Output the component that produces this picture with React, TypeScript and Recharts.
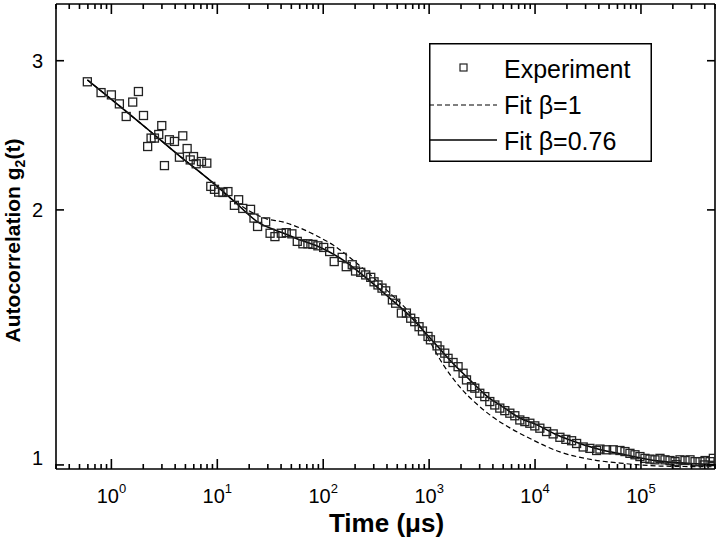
import React from "react";
import { ComposedChart, Scatter, Line, XAxis, YAxis, Legend } from "recharts";

// measured correlation g2(t), t in microseconds
const expTime = [
  0.593, 0.799, 1.0, 1.19, 1.38, 1.59, 1.8, 2.01, 2.2, 2.37, 2.55, 2.8, 2.99, 3.17, 3.53, 3.94, 4.39, 4.72,
  5.19, 5.55, 5.96, 6.32, 7.09, 7.96, 8.68, 9.41, 10.3, 11.3, 12.6, 14.5, 15.9, 17.4, 20.6, 22.2, 24.0, 28.6,
  31.5, 35.0, 40.2, 44.8, 50.6, 56.9, 64.3, 71.7, 79.9, 89.1, 101, 115, 127, 151, 165, 188, 202, 226, 252,
  281, 302, 329, 359, 389, 450, 483, 547, 610, 670, 731, 803, 865, 976, 1029, 1188, 1260, 1404, 1509, 1682,
  1876, 2092, 2253, 2511, 2698, 3008, 3354, 3740, 4169, 4648, 5183, 5779, 6444, 7183, 8010, 8930, 9950,
  11100, 12850, 14830, 17160, 19550, 22130, 24680, 28490, 32960, 38140, 40980, 47400, 54720, 63310, 70600,
  78700, 87770, 97800, 109100, 121600, 135600, 151200, 168600, 188000, 209700, 215000, 233700, 260600,
  290500, 323900, 361200, 395000, 402700, 449000, 470000, 482500,
];
const expG = [
  2.833, 2.751, 2.734, 2.668, 2.578, 2.681, 2.759, 2.585, 2.376, 2.431, 2.431, 2.455, 2.515, 2.256, 2.42, 2.409,
  2.308, 2.446, 2.363, 2.291, 2.312, 2.267, 2.281, 2.271, 2.132, 2.115, 2.099, 2.097, 2.102, 2.025, 2.056,
  2.008, 2.003, 1.956, 1.912, 1.936, 1.877, 1.86, 1.877, 1.88, 1.874, 1.836, 1.824, 1.824, 1.821, 1.814,
  1.806, 1.786, 1.738, 1.758, 1.714, 1.723, 1.694, 1.688, 1.676, 1.665, 1.645, 1.631, 1.617, 1.605, 1.566,
  1.552, 1.511, 1.511, 1.49, 1.476, 1.456, 1.439, 1.418, 1.405, 1.382, 1.367, 1.355, 1.336, 1.321, 1.306,
  1.283, 1.26, 1.237, 1.232, 1.215, 1.204, 1.188, 1.177, 1.167, 1.159, 1.151, 1.143, 1.13, 1.125, 1.12,
  1.112, 1.105, 1.095, 1.088, 1.078, 1.072, 1.068, 1.06, 1.05, 1.046, 1.04, 1.044, 1.042, 1.042, 1.04,
  1.037, 1.032, 1.028, 1.023, 1.018, 1.016, 1.014, 1.018, 1.014, 1.012, 1.009, 1.001, 1.014, 1.012, 1.014,
  1.009, 1.009, 1.0, 1.012, 1.009, 0.999, 1.018,
];

// stretched exponential fit, beta = 0.76
const fitStretchedTime = [
  0.593, 1.19, 2.29, 4.39, 8.44, 13.9, 24.0, 41.3, 59.8, 86.6, 153, 275, 424, 655, 870, 1260, 1565, 2420,
  3503, 4963, 7183, 10400, 15390, 21330, 39240, 70600, 141700, 290500, 500000,
];
const fitStretchedG = [
  2.848, 2.654, 2.48, 2.317, 2.17, 2.056, 1.936, 1.879, 1.844, 1.814, 1.746, 1.649, 1.574, 1.5, 1.443,
  1.371, 1.33, 1.26, 1.206, 1.171, 1.136, 1.115, 1.088, 1.07, 1.044, 1.028, 1.011, 1.004, 1.001,
];

// plain exponential fit, beta = 1
const fitExpTime = [
  0.593, 1.19, 2.29, 4.39, 8.44, 13.9, 19.3, 29.2, 41.3, 59.8, 86.6, 123, 190, 293, 424, 655, 909, 1344,
  1946, 2818, 3991, 5779, 8367, 17160, 35180, 63310, 151200, 500000,
];
const fitExpG = [
  2.848, 2.654, 2.48, 2.317, 2.17, 2.056, 2.0, 1.952, 1.936, 1.905, 1.864, 1.819, 1.746, 1.667, 1.596, 1.512,
  1.432, 1.316, 1.236, 1.18, 1.139, 1.106, 1.079, 1.036, 1.014, 1.005, 0.997, 0.995,
];

const seriesNames = ["Experiment", "Fit \u03b2=1", "Fit \u03b2=0.76"];

const xMajorTicks = [1, 10, 100, 1000, 10000, 100000];
const xExponents = ["0", "1", "2", "3", "4", "5"];
const xDecades = [0.1, 1, 10, 100, 1000, 10000, 100000];
const yTicks = [1, 2, 3];

const xDomain = [0.3, 500000];
const yDomain = [0.989, 3.5];

const zip = (ts: number[], gs: number[]) => ts.map((t, i) => ({ t, g: gs[i] }));
const expData = zip(expTime, expG);
const fitStretched = zip(fitStretchedTime, fitStretchedG);
const fitExp = zip(fitExpTime, fitExpG);

const xAllTicks = [
  ...xMajorTicks,
  ...xDecades.flatMap((d) => [2, 3, 4, 5, 6, 7, 8, 9].map((m) => m * d)),
]
  .filter((v) => v >= xDomain[0] - 1e-9 && v <= xDomain[1] + 1e-6)
  .sort((a, b) => a - b);

const FONT = "'Liberation Sans', Arial, sans-serif";

function BottomTick(props: any) {
  const { x, y, payload } = props;
  const idx = xMajorTicks.indexOf(payload.value);
  const major = idx >= 0;
  return (
    <g>
      <line x1={x} x2={x} y1={y} y2={y - (major ? 10 : 5)} stroke="#000" strokeWidth={1.6} />
      {major && (
        <text x={x} y={y + 34} textAnchor="middle" fontSize={20} fontFamily={FONT} fill="#000">
          10
          <tspan dy={-10} fontSize={13}>
            {xExponents[idx]}
          </tspan>
        </text>
      )}
    </g>
  );
}

function TopTick(props: any) {
  const { x, y, payload } = props;
  const major = xMajorTicks.indexOf(payload.value) >= 0;
  return <line x1={x} x2={x} y1={y} y2={y + (major ? 10 : 5)} stroke="#000" strokeWidth={1.6} />;
}

function LeftTick(props: any) {
  const { x, y, payload } = props;
  const shift = payload.value === 1 ? -7 : 0;
  return (
    <g>
      <line x1={x} x2={x + 8} y1={y} y2={y} stroke="#000" strokeWidth={1.6} />
      <text x={x - 13} y={y + 7 + shift} textAnchor="end" fontSize={20} fontFamily={FONT} fill="#000">
        {payload.value}
      </text>
    </g>
  );
}

function RightTick(props: any) {
  const { x, y } = props;
  return <line x1={x} x2={x - 8} y1={y} y2={y} stroke="#000" strokeWidth={1.6} />;
}

function XLabel(props: any) {
  const vb = props.viewBox || { x: 56, y: 469, width: 659 };
  return (
    <text
      x={vb.x + vb.width / 2 + 1}
      y={vb.y + 63}
      textAnchor="middle"
      fontSize={26}
      fontWeight="bold"
      fontFamily={FONT}
      fill="#000"
    >
      Time (μs)
    </text>
  );
}

function YLabel(props: any) {
  const vb = props.viewBox || { x: 16, y: 4, height: 465 };
  const cx = vb.x + 4;
  const cy = vb.y + vb.height / 2 + 4;
  return (
    <text
      x={cx}
      y={cy}
      transform={`rotate(-90, ${cx}, ${cy})`}
      textAnchor="middle"
      fontSize={21}
      fontWeight="bold"
      fontFamily={FONT}
      fill="#000"
    >
      Autocorrelation g
      <tspan dy={5} fontSize={14}>
        2
      </tspan>
      <tspan dy={-5}>(t)</tspan>
    </text>
  );
}

function SquareDot(props: any) {
  const { cx, cy } = props;
  if (cx == null || cy == null) return null;
  return <rect x={cx - 4} y={cy - 4} width={8} height={8} fill="none" stroke="#222" strokeWidth={1.3} />;
}

function FitLegend() {
  return (
    <svg width={223} height={119} style={{ display: "block" }}>
      <rect x={0.75} y={0.75} width={221.5} height={117.5} fill="#fff" stroke="#000" strokeWidth={1.5} />
      <rect x={31} y={21} width={7} height={7} fill="none" stroke="#222" strokeWidth={1.2} />
      <text x={75} y={35} fontSize={25} fontFamily={FONT} fill="#000">
        {seriesNames[0]}
      </text>
      <line x1={0} x2={68} y1={62} y2={62} stroke="#000" strokeWidth={1.2} strokeDasharray="5 3" />
      <text x={75} y={71} fontSize={25} fontFamily={FONT} fill="#000">
        {seriesNames[1]}
      </text>
      <line x1={0} x2={68} y1={97} y2={97} stroke="#000" strokeWidth={1.5} />
      <text x={75} y={107} fontSize={25} fontFamily={FONT} fill="#000">
        {seriesNames[2]}
      </text>
    </svg>
  );
}

export default function App() {
  const axisLine = { stroke: "#000", strokeWidth: 1.6 };
  return (
    <div style={{ position: "absolute", left: 0, top: 0, width: 720, height: 549, background: "#fff" }}>
      <ComposedChart width={720} height={549} margin={{ top: 3, right: 4, bottom: 5, left: 16 }}>
        <XAxis
          xAxisId="bottom"
          dataKey="t"
          type="number"
          scale="log"
          domain={xDomain}
          allowDataOverflow
          ticks={xAllTicks}
          interval={0}
          tickSize={0}
          tickMargin={0}
          tickLine={false}
          axisLine={axisLine}
          tick={<BottomTick />}
          height={75}
          label={<XLabel />}
        />
        <XAxis
          xAxisId="top"
          orientation="top"
          dataKey="t"
          type="number"
          scale="log"
          domain={xDomain}
          allowDataOverflow
          ticks={xAllTicks}
          interval={0}
          tickSize={0}
          tickMargin={0}
          tickLine={false}
          axisLine={axisLine}
          tick={<TopTick />}
          height={1}
        />
        <YAxis
          yAxisId="left"
          dataKey="g"
          type="number"
          scale="log"
          domain={yDomain}
          allowDataOverflow
          ticks={yTicks}
          interval={0}
          tickSize={0}
          tickMargin={0}
          tickLine={false}
          axisLine={axisLine}
          tick={<LeftTick />}
          width={40}
          label={<YLabel />}
        />
        <YAxis
          yAxisId="right"
          orientation="right"
          dataKey="g"
          type="number"
          scale="log"
          domain={yDomain}
          allowDataOverflow
          ticks={yTicks}
          interval={0}
          tickSize={0}
          tickMargin={0}
          tickLine={false}
          axisLine={axisLine}
          tick={<RightTick />}
          width={1}
        />
        <Scatter
          xAxisId="bottom"
          yAxisId="left"
          name={seriesNames[0]}
          data={expData}
          dataKey="g"
          shape={<SquareDot />}
          isAnimationActive={false}
        />
        {/* drawn on the mirrored top/right axes: same domains, same pixels */}
        <Line
          xAxisId="top"
          yAxisId="right"
          name={seriesNames[1]}
          data={fitExp}
          dataKey="g"
          type="monotone"
          stroke="#000"
          strokeWidth={1.2}
          strokeDasharray="5 3"
          dot={false}
          isAnimationActive={false}
        />
        <Line
          xAxisId="bottom"
          yAxisId="left"
          name={seriesNames[2]}
          data={fitStretched}
          dataKey="g"
          type="monotone"
          stroke="#000"
          strokeWidth={1.6}
          dot={false}
          isAnimationActive={false}
        />
        <Legend
          layout="vertical"
          align="center"
          verticalAlign="middle"
          content={<FitLegend />}
          wrapperStyle={{ left: 429, top: 43, width: 223, height: 119 }}
        />
      </ComposedChart>
    </div>
  );
}
